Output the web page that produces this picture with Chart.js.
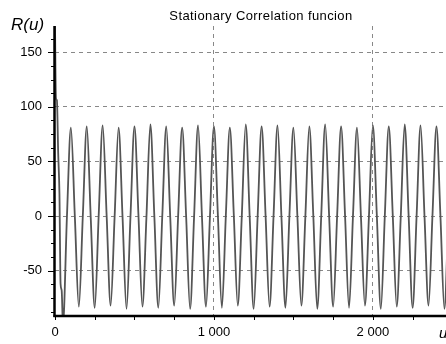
<!DOCTYPE html>
<html>
<head>
<meta charset="utf-8">
<script src="https://cdn.jsdelivr.net/npm/chart.js@4.4.1/dist/chart.umd.min.js"></script>
<style>
  body { margin: 0; background: #fff; }
  #wrap { width: 446px; height: 344px; position: relative; }
</style>
</head>
<body>
<div id="wrap"><canvas id="corrChart"></canvas></div>
<script>
// texts of the chart
const titleText = "Stationary Correlation funcion";
const yAxisLabel = "R(u)";
const xAxisLabel = "u";

// tick labels
const xTicks = [0, 1000, 2000];
const yTicks = [-50, 0, 50, 100, 150];

// lag values u
const uValues = [0, 6, 12, 20, 28, 35, 42, 50, 75,
    100, 125, 150, 175, 200, 225, 250, 275, 300, 325, 350, 375,
    400, 425, 450, 475, 500, 525, 550, 575, 600, 625, 650, 675,
    700, 725, 750, 775, 800, 825, 850, 875, 900, 925, 950, 975,
    1000, 1025, 1050, 1075, 1100, 1125, 1150, 1175, 1200, 1225, 1250, 1275,
    1300, 1325, 1350, 1375, 1400, 1425, 1450, 1475, 1500, 1525, 1550, 1575,
    1600, 1625, 1650, 1675, 1700, 1725, 1750, 1775, 1800, 1825, 1850, 1875,
    1900, 1925, 1950, 1975, 2000, 2025, 2050, 2075, 2100, 2125, 2150, 2175,
    2200, 2225, 2250, 2275, 2300, 2325, 2350, 2375, 2400, 2425, 2450, 2475];

// correlation values R(u)
const rValues = [175, 108, 106, 58, 20, -62, -68, -100, -1,
    81, -1, -83, 0, 82, -2, -84, 1, 83, 0, -82, -1,
    81, -1, -85, 0, 82, 1, -83, -2, 84, 0, -84, 0,
    82, -1, -82, 1, 81, 0, -85, -1, 83, -2, -83, 0,
    82, 0, -84, 1, 81, 1, -82, -1, 84, -1, -85, 0,
    82, 0, -83, 0, 83, -2, -84, 1, 81, 0, -82, -1,
    82, 1, -85, 0, 84, -1, -83, 0, 82, 0, -84, 1,
    81, -1, -82, -1, 83, 0, -85, 0, 82, 1, -83, -2,
    84, 0, -84, 0, 83, -1, -82, 1, 82, 0, -85, 0];

const fontFamily = "'Liberation Sans', Arial, sans-serif";

// format 1000 -> "1 000"
function formatThousands (v) {
    return String(v).replace(/\B(?=(\d{3})+(?!\d))/g, " "); }

// axes, tick marks, title and axis labels
const decorPlugin = {
    id: 'decor',
    afterDraw (chart) {
        const ctx = chart.ctx;
        const area = chart.chartArea;
        const xs = chart.scales.x, ys = chart.scales.y;
        ctx.save();
        ctx.strokeStyle = '#000';
        ctx.lineWidth = 1;
        // minor / major ticks on y axis
        for (let v = -87.5; v <= 174; v += 12.5) {
            const py = Math.round(ys.getPixelForValue(v)) + 0.5;
            const len = (v % 50 === 0) ? 6 : 3;
            ctx.beginPath(); ctx.moveTo(area.left - 1 - len, py); ctx.lineTo(area.left, py); ctx.stroke();
        }
        // ticks on x axis
        for (let v = 0; v <= 2460; v += 250) {
            const px = Math.round(xs.getPixelForValue(v)) + 0.5;
            ctx.beginPath(); ctx.moveTo(px, area.bottom); ctx.lineTo(px, area.bottom + 4); ctx.stroke();
        }
        // thick axis lines
        ctx.lineWidth = 2.5;
        ctx.beginPath(); ctx.moveTo(area.left - 0.5, area.top); ctx.lineTo(area.left - 0.5, area.bottom + 1); ctx.stroke();
        ctx.beginPath(); ctx.moveTo(area.left - 1.5, area.bottom); ctx.lineTo(area.right, area.bottom); ctx.stroke();
        // texts
        ctx.fillStyle = '#000';
        ctx.textBaseline = 'alphabetic';
        ctx.font = '13px ' + fontFamily;
        ctx.letterSpacing = '0.4px';
        ctx.textAlign = 'center';
        ctx.fillText(titleText, 261, 20);
        ctx.letterSpacing = '0px';
        ctx.textAlign = 'left';
        ctx.font = 'italic 17px ' + fontFamily;
        ctx.fillText(yAxisLabel, 11, 30);
        ctx.font = 'italic 15px ' + fontFamily;
        ctx.fillText(xAxisLabel, 439, 338);
        ctx.restore();
    }
};

const corrChart = new Chart("corrChart", {
    type: 'line',
    data: {
        datasets: [{
            data: uValues.map((u, i) => ({ x: u, y: rValues[i] })),
            borderColor: '#555555',
            borderWidth: 1.8,
            pointRadius: 0,
            fill: false,
            cubicInterpolationMode: 'monotone'
        }]
    },
    options: {
        responsive: true,
        maintainAspectRatio: false,
        animation: false,
        layout: { padding: { top: 26, left: 0, right: 0, bottom: 0 } },
        plugins: { legend: { display: false }, title: { display: false }, tooltip: { enabled: false } },
        scales: {
            x: {
                type: 'linear',
                min: 0, max: 2460,
                afterBuildTicks: (scale) => { scale.ticks = xTicks.map((v) => ({ value: v })); },
                afterFit: (scale) => { scale.height = 28; },
                grid: {
                    drawTicks: false,
                    color: (c) => (c.tick && c.tick.value === 0) ? 'rgba(0,0,0,0)' : '#888',
                    lineWidth: 1
                },
                border: { display: false, dash: [4, 4] },
                ticks: {
                    autoSkip: false, maxRotation: 0, padding: 9, color: '#000',
                    font: { family: fontFamily, size: 13 },
                    callback: (v) => formatThousands(v)
                }
            },
            y: {
                min: -91.5, max: 174,
                afterBuildTicks: (scale) => { scale.ticks = yTicks.map((v) => ({ value: v })); },
                afterFit: (scale) => { scale.width = 55; },
                grid: { drawTicks: false, color: '#888', lineWidth: 1 },
                border: { display: false, dash: [4, 4] },
                ticks: {
                    padding: 13, color: '#000',
                    font: { family: fontFamily, size: 13 }
                }
            }
        }
    },
    plugins: [decorPlugin]
});
</script>
</body>
</html>
